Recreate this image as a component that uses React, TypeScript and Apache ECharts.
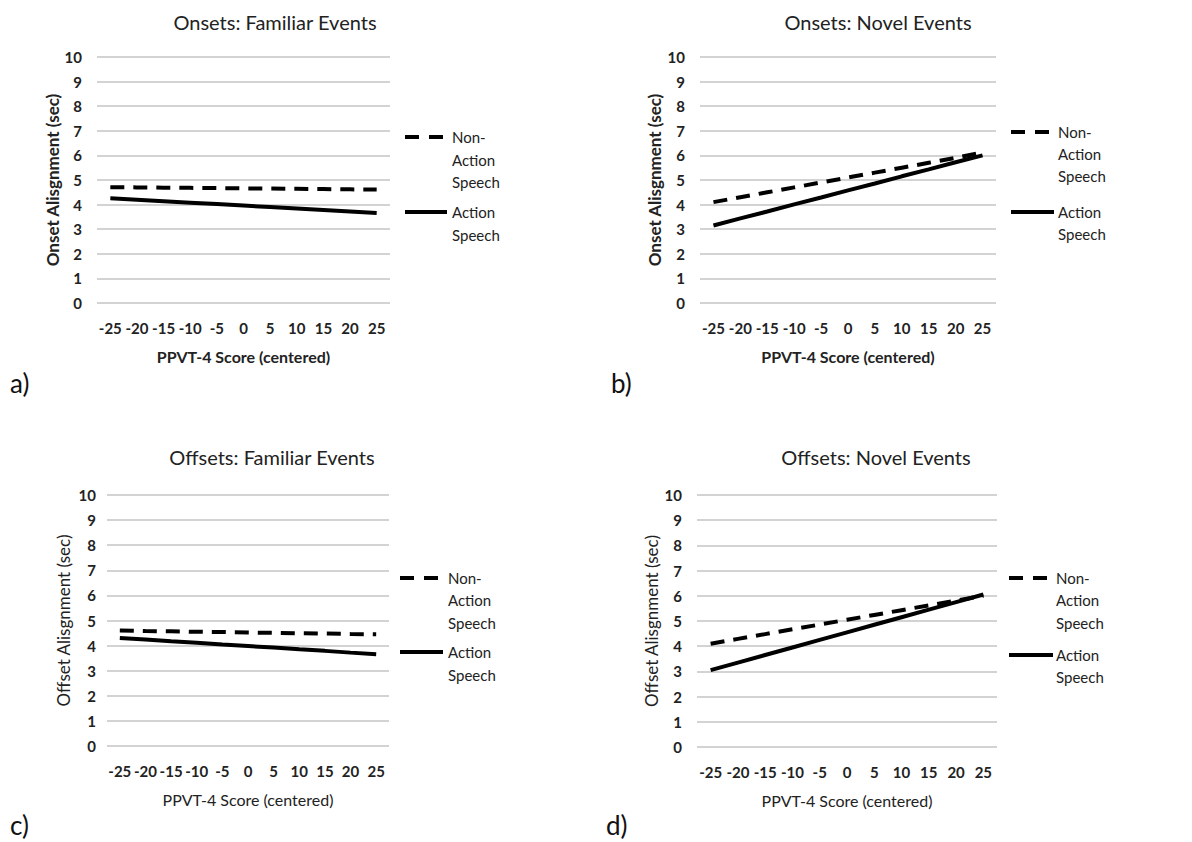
import React, { useEffect, useRef } from "react";
import * as echarts from "echarts";

const scoreLabels = ["-25", "-20", "-15", "-10", "-5", "0", "5", "10", "15", "20", "25"];
const yTicks = [0, 10];

const panelTitles = ["Onsets: Familiar Events", "Onsets: Novel Events", "Offsets: Familiar Events", "Offsets: Novel Events"];
const yNames = ["Onset Alisgnment (sec)", "Onset Alisgnment (sec)", "Offset Alisgnment (sec)", "Offset Alisgnment (sec)"];
const xName = "PPVT-4 Score (centered)";
const panelLetters = ["a)", "b)", "c)", "d)"];
const seriesNames = ["Non-Action Speech", "Action Speech"];

const onsetFamiliarNonAction = [4.71, 4.7, 4.69, 4.68, 4.67, 4.66, 4.65, 4.64, 4.63, 4.62, 4.61];
const onsetFamiliarAction = [4.26, 4.2, 4.14, 4.08, 4.02, 3.96, 3.9, 3.84, 3.78, 3.72, 3.66];
const onsetNovelNonAction = [4.1, 4.3, 4.5, 4.7, 4.9, 5.1, 5.3, 5.5, 5.7, 5.9, 6.12];
const onsetNovelAction = [3.15, 3.44, 3.72, 4.01, 4.29, 4.58, 4.86, 5.15, 5.43, 5.72, 6.0];
const offsetFamiliarNonAction = [4.6, 4.58, 4.57, 4.55, 4.54, 4.52, 4.51, 4.49, 4.48, 4.46, 4.45];
const offsetFamiliarAction = [4.3, 4.24, 4.17, 4.11, 4.04, 3.98, 3.92, 3.85, 3.79, 3.72, 3.66];
const offsetNovelNonAction = [4.1, 4.29, 4.48, 4.67, 4.86, 5.05, 5.24, 5.43, 5.62, 5.81, 6.0];
const offsetNovelAction = [3.05, 3.35, 3.65, 3.95, 4.25, 4.55, 4.85, 5.15, 5.45, 5.75, 6.05];

const panelData = [
  [onsetFamiliarNonAction, onsetFamiliarAction],
  [onsetNovelNonAction, onsetNovelAction],
  [offsetFamiliarNonAction, offsetFamiliarAction],
  [offsetNovelNonAction, offsetNovelAction],
];

const FONT = "Lato, 'Open Sans', sans-serif";
const TXT = "#222";

// layout
const grids = [
  { left: 97, top: 57, width: 293, height: 246 },
  { left: 700, top: 57, width: 296, height: 246 },
  { left: 107, top: 495, width: 282, height: 251 },
  { left: 697, top: 495, width: 300, height: 252 },
];
const titlePos = [
  { x: 275, y: 22 },
  { x: 878, y: 22 },
  { x: 272, y: 457 },
  { x: 876, y: 457 },
];
const legendPos = [
  { x0: 405, x1: 447, tx: 452, ys: [137, 160, 182], ys2: [212, 235] },
  { x0: 1011, x1: 1054, tx: 1058, ys: [132, 154, 176], ys2: [212, 234] },
  { x0: 400, x1: 443, tx: 448, ys: [578, 600, 623], ys2: [652, 675] },
  { x0: 1009, x1: 1053, tx: 1056, ys: [578, 600, 623], ys2: [655, 677] },
];
const letterPos = [
  { x: 10, y: 383 },
  { x: 611, y: 383 },
  { x: 10, y: 825 },
  { x: 606, y: 825 },
];
const boldNames = [true, true, false, false];
const yNameGaps = [34, 37, 35, 37];

export default function App() {
  const ref = useRef<HTMLDivElement>(null);
  useEffect(() => {
    document.body.style.margin = "0";
    const chart = echarts.init(ref.current!, null, { renderer: "svg" });
    const graphic: any[] = [];
    panelTitles.forEach((t, i) => {
      graphic.push({
        type: "text",
        x: titlePos[i].x,
        y: titlePos[i].y,
        style: { text: t, font: `20px ${FONT}`, fill: TXT, align: "center", verticalAlign: "middle" },
      });
      const L = legendPos[i];
      graphic.push({
        type: "line",
        shape: { x1: L.x0, y1: L.ys[0], x2: L.x1, y2: L.ys[0] },
        style: { stroke: "#000", lineWidth: 4, lineDash: [14, 10] },
      });
      graphic.push({
        type: "line",
        shape: { x1: L.x0, y1: L.ys2[0], x2: L.x1, y2: L.ys2[0] },
        style: { stroke: "#000", lineWidth: 4 },
      });
      ["Non-", "Action", "Speech"].forEach((w, k) => {
        graphic.push({
          type: "text",
          x: L.tx,
          y: L.ys[k],
          style: { text: w, font: `15px ${FONT}`, fill: TXT, verticalAlign: "middle" },
        });
      });
      ["Action", "Speech"].forEach((w, k) => {
        graphic.push({
          type: "text",
          x: L.tx,
          y: L.ys2[k],
          style: { text: w, font: `15px ${FONT}`, fill: TXT, verticalAlign: "middle" },
        });
      });
      graphic.push({
        type: "text",
        x: letterPos[i].x,
        y: letterPos[i].y,
        style: { text: panelLetters[i], font: `26px ${FONT}`, fill: "#111", verticalAlign: "middle" },
      });
    });

    const option: any = {
      animation: false,
      backgroundColor: "#fff",
      grid: grids.map((g) => ({ ...g, containLabel: false })),
      xAxis: grids.map((_, i) => ({
        type: "category",
        gridIndex: i,
        data: scoreLabels,
        boundaryGap: true,
        axisLine: { show: false },
        axisTick: { show: false },
        axisLabel: { interval: 0, margin: 17, fontFamily: FONT, fontSize: 15, fontWeight: "bold", color: TXT },
        name: xName,
        nameLocation: "middle",
        nameGap: 45,
        nameTextStyle: { fontFamily: FONT, fontSize: 16, fontWeight: boldNames[i] ? "bold" : "normal", color: TXT },
      })),
      yAxis: grids.map((_, i) => ({
        type: "value",
        gridIndex: i,
        min: yTicks[0],
        max: yTicks[1],
        interval: 1,
        axisLine: { show: false },
        axisTick: { show: false },
        splitLine: { show: true, lineStyle: { color: "#c4c4c4", width: 1.5 } },
        axisLabel: { margin: i === 2 ? 11 : 15, fontFamily: FONT, fontSize: 15, fontWeight: "bold", color: TXT },
        name: yNames[i],
        nameLocation: "middle",
        nameGap: yNameGaps[i],
        nameTextStyle: { fontFamily: FONT, fontSize: 17, fontWeight: boldNames[i] ? "bold" : "normal", color: TXT },
      })),
      series: panelData.flatMap((pair, i) =>
        pair.map((vals, k) => ({
          type: "line",
          name: seriesNames[k],
          xAxisIndex: i,
          yAxisIndex: i,
          data: vals,
          symbol: "none",
          lineStyle: { color: "#000", width: 4, type: k === 0 ? [14, 9] : "solid" },
          z: k === 0 ? 3 : 2,
        }))
      ),
      graphic,
    };
    chart.setOption(option);
    return () => chart.dispose();
  }, []);
  return <div ref={ref} style={{ width: 1192, height: 842 }} />;
}
